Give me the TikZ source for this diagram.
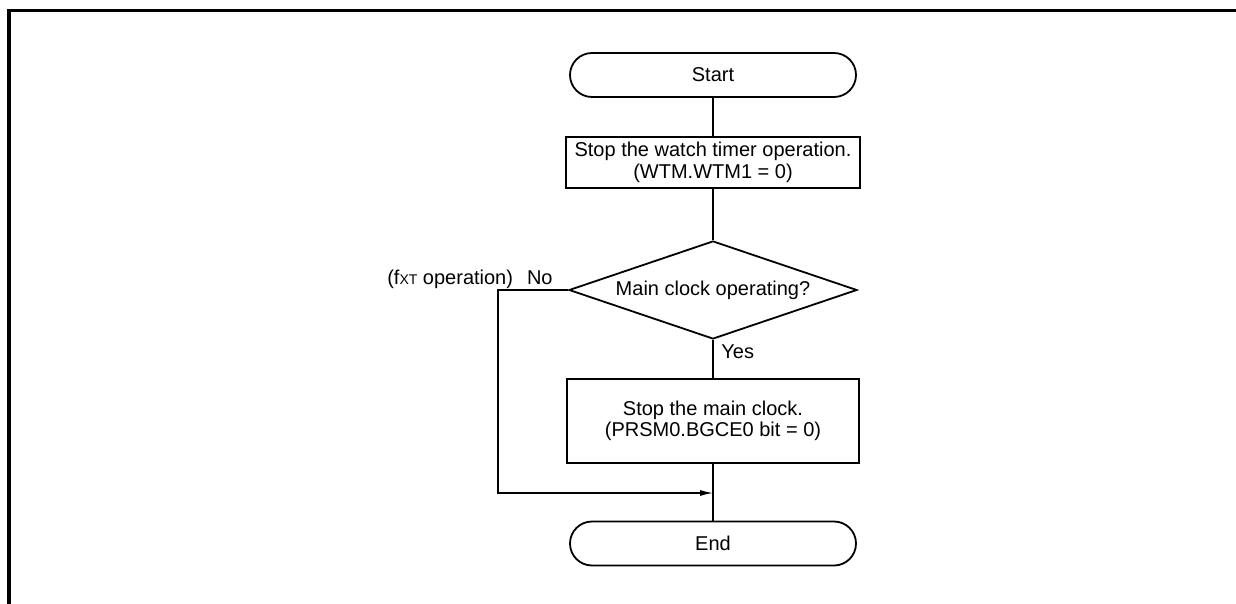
\documentclass[tikz,border=0pt]{standalone}
\usepackage{fontspec}
\setmainfont{Liberation Sans}
\usetikzlibrary{shapes.geometric,arrows.meta,positioning,calc}

\begin{document}
\begin{tikzpicture}[
    x=0.5pt,y=-0.5pt,
    font=\fontsize{10}{10.8}\selectfont,
    trm/.style = {rectangle,rounded corners=11pt,draw,line width=0.9pt,
                  minimum width=143pt,minimum height=22pt,inner sep=0pt},
    prc/.style = {rectangle,draw,line width=0.9pt,align=center,inner sep=0pt,
                  minimum width=147pt},
    dcs/.style = {diamond,draw,line width=0.9pt,aspect=2.94,inner sep=0pt,
                  minimum width=144pt,minimum height=49pt},
    lbl/.style = {inner sep=0pt},
    lin/.style = {line width=0.65pt},
    arr/.style = {lin,-{Latex[length=6.5pt,width=3pt]}},
    frm/.style = {line width=1.75pt},
  ]
  \useasboundingbox (0,0) rectangle (1236,604);

  % frame
  \draw[frm] (9,604) -- (9,10.5) -- (1236,10.5);

  % flow
  \node[trm] (start) at (713,75) {Start};
  \node[prc,minimum height=25.5pt] (stopwt) at (713,162.5)
       {Stop the watch timer operation.\\ (WTM.WTM1 = 0)};
  \node[dcs] (dec) at (713,290) {Main clock operating?};
  \node[prc,minimum width=146pt,minimum height=42pt] (stopmc) at (713,421)
       {Stop the main clock.\\ (PRSM0.BGCE0 bit = 0)};
  \node[trm] (finish) at (713,543.5) {End};
  \coordinate (join) at (713,493);
  \coordinate (bend) at (498,290);

  \draw[lin] (start) -- (stopwt);
  \draw[lin] (stopwt) -- (dec);
  \draw[lin] (dec) -- (stopmc);
  \draw[lin] (stopmc) -- (finish);
  \draw[arr] (dec.west) -- (bend) |- (join);

  % labels
  \node[lbl,anchor=base west] (yes) at (721,358) {Yes};
  \node[lbl,anchor=base east] (no) at (553,285)
       {(f{\fontsize{7}{7}\selectfont XT} operation)\hspace{7pt}No};

\end{tikzpicture}
\end{document}
